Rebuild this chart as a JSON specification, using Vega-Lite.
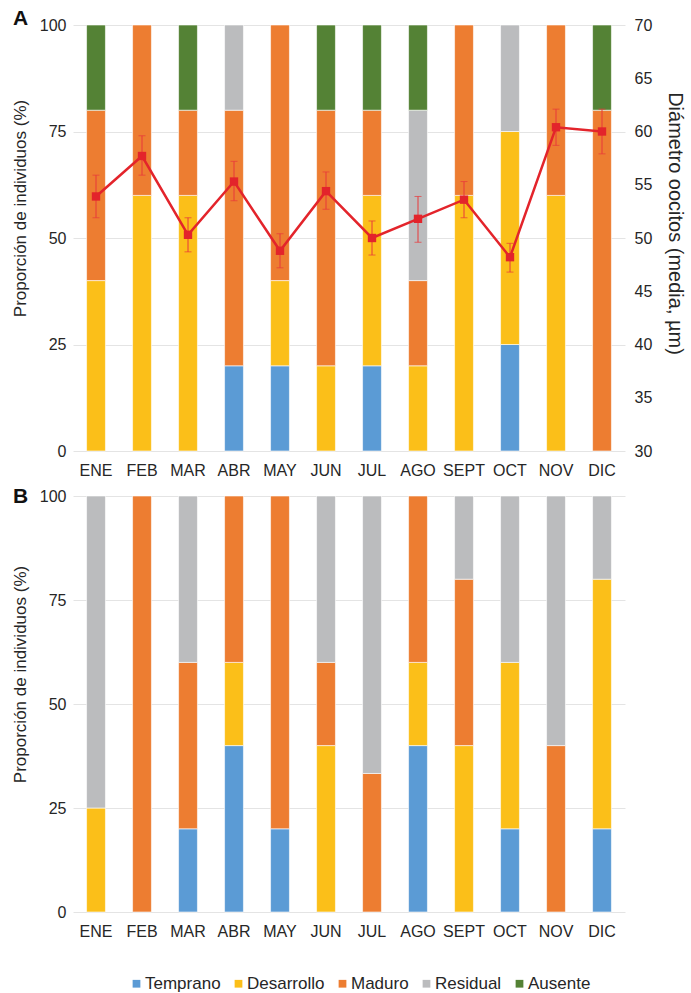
{
  "$schema": "https://vega.github.io/schema/vega-lite/v6.json",
  "padding": {"left": 11, "top": 8, "right": 2, "bottom": 2},
  "config": {
    "font": "Liberation Sans",
    "view": {"stroke": null},
    "axis": {
      "labelFontSize": 16,
      "titleFontSize": 17,
      "titleFontWeight": "normal",
      "labelColor": "#262626",
      "titleColor": "#262626",
      "domain": false,
      "ticks": false,
      "gridColor": "#E4E4E4",
      "labelPadding": 7
    },
    "axisX": {"grid": false, "labelAngle": 0, "title": null, "labelPadding": 11},
    "legend": {
      "orient": "none",
      "legendX": 55,
      "legendY": 950,
      "direction": "horizontal",
      "title": null,
      "symbolType": "square",
      "symbolSize": 60,
      "symbolStrokeWidth": 0,
      "labelFontSize": 17,
      "labelColor": "#262626",
      "labelOffset": 0,
      "columnPadding": 9
    },
    "concat": {"spacing": 8},
    "title": {
      "anchor": "start",
      "frame": "group",
      "fontSize": 21,
      "fontWeight": "bold",
      "color": "#111111",
      "dx": -60,
      "baseline": "bottom"
    }
  },
  "datasets": {
    "etapas_a": [
      {"mes": "ENE", "estado": "Desarrollo", "pct": 40, "k": 2},
      {"mes": "ENE", "estado": "Maduro", "pct": 40, "k": 3},
      {"mes": "ENE", "estado": "Ausente", "pct": 20, "k": 5},
      {"mes": "FEB", "estado": "Desarrollo", "pct": 60, "k": 2},
      {"mes": "FEB", "estado": "Maduro", "pct": 40, "k": 3},
      {"mes": "MAR", "estado": "Desarrollo", "pct": 60, "k": 2},
      {"mes": "MAR", "estado": "Maduro", "pct": 20, "k": 3},
      {"mes": "MAR", "estado": "Ausente", "pct": 20, "k": 5},
      {"mes": "ABR", "estado": "Temprano", "pct": 20, "k": 1},
      {"mes": "ABR", "estado": "Maduro", "pct": 60, "k": 3},
      {"mes": "ABR", "estado": "Residual", "pct": 20, "k": 4},
      {"mes": "MAY", "estado": "Temprano", "pct": 20, "k": 1},
      {"mes": "MAY", "estado": "Desarrollo", "pct": 20, "k": 2},
      {"mes": "MAY", "estado": "Maduro", "pct": 60, "k": 3},
      {"mes": "JUN", "estado": "Desarrollo", "pct": 20, "k": 2},
      {"mes": "JUN", "estado": "Maduro", "pct": 60, "k": 3},
      {"mes": "JUN", "estado": "Ausente", "pct": 20, "k": 5},
      {"mes": "JUL", "estado": "Temprano", "pct": 20, "k": 1},
      {"mes": "JUL", "estado": "Desarrollo", "pct": 40, "k": 2},
      {"mes": "JUL", "estado": "Maduro", "pct": 20, "k": 3},
      {"mes": "JUL", "estado": "Ausente", "pct": 20, "k": 5},
      {"mes": "AGO", "estado": "Desarrollo", "pct": 20, "k": 2},
      {"mes": "AGO", "estado": "Maduro", "pct": 20, "k": 3},
      {"mes": "AGO", "estado": "Residual", "pct": 40, "k": 4},
      {"mes": "AGO", "estado": "Ausente", "pct": 20, "k": 5},
      {"mes": "SEPT", "estado": "Desarrollo", "pct": 60, "k": 2},
      {"mes": "SEPT", "estado": "Maduro", "pct": 40, "k": 3},
      {"mes": "OCT", "estado": "Temprano", "pct": 25, "k": 1},
      {"mes": "OCT", "estado": "Desarrollo", "pct": 50, "k": 2},
      {"mes": "OCT", "estado": "Residual", "pct": 25, "k": 4},
      {"mes": "NOV", "estado": "Desarrollo", "pct": 60, "k": 2},
      {"mes": "NOV", "estado": "Maduro", "pct": 40, "k": 3},
      {"mes": "DIC", "estado": "Maduro", "pct": 80, "k": 3},
      {"mes": "DIC", "estado": "Ausente", "pct": 20, "k": 5}
    ],
    "diametro_a": [
      {"mes": "ENE", "media": 53.9, "lo": 51.9, "hi": 55.9},
      {"mes": "FEB", "media": 57.7, "lo": 55.9, "hi": 59.6},
      {"mes": "MAR", "media": 50.3, "lo": 48.7, "hi": 51.9},
      {"mes": "ABR", "media": 55.3, "lo": 53.5, "hi": 57.2},
      {"mes": "MAY", "media": 48.8, "lo": 47.2, "hi": 50.4},
      {"mes": "JUN", "media": 54.4, "lo": 52.7, "hi": 56.2},
      {"mes": "JUL", "media": 50.0, "lo": 48.4, "hi": 51.6},
      {"mes": "AGO", "media": 51.8, "lo": 49.6, "hi": 53.9},
      {"mes": "SEPT", "media": 53.6, "lo": 51.9, "hi": 55.3},
      {"mes": "OCT", "media": 48.2, "lo": 46.8, "hi": 49.5},
      {"mes": "NOV", "media": 60.4, "lo": 58.7, "hi": 62.1},
      {"mes": "DIC", "media": 60.0, "lo": 57.9, "hi": 62.1}
    ],
    "etapas_b": [
      {"mes": "ENE", "estado": "Desarrollo", "pct": 25, "k": 2},
      {"mes": "ENE", "estado": "Residual", "pct": 75, "k": 4},
      {"mes": "FEB", "estado": "Maduro", "pct": 100, "k": 3},
      {"mes": "MAR", "estado": "Temprano", "pct": 20, "k": 1},
      {"mes": "MAR", "estado": "Maduro", "pct": 40, "k": 3},
      {"mes": "MAR", "estado": "Residual", "pct": 40, "k": 4},
      {"mes": "ABR", "estado": "Temprano", "pct": 40, "k": 1},
      {"mes": "ABR", "estado": "Desarrollo", "pct": 20, "k": 2},
      {"mes": "ABR", "estado": "Maduro", "pct": 40, "k": 3},
      {"mes": "MAY", "estado": "Temprano", "pct": 20, "k": 1},
      {"mes": "MAY", "estado": "Maduro", "pct": 80, "k": 3},
      {"mes": "JUN", "estado": "Desarrollo", "pct": 40, "k": 2},
      {"mes": "JUN", "estado": "Maduro", "pct": 20, "k": 3},
      {"mes": "JUN", "estado": "Residual", "pct": 40, "k": 4},
      {"mes": "JUL", "estado": "Maduro", "pct": 33.3, "k": 3},
      {"mes": "JUL", "estado": "Residual", "pct": 66.7, "k": 4},
      {"mes": "AGO", "estado": "Temprano", "pct": 40, "k": 1},
      {"mes": "AGO", "estado": "Desarrollo", "pct": 20, "k": 2},
      {"mes": "AGO", "estado": "Maduro", "pct": 40, "k": 3},
      {"mes": "SEPT", "estado": "Desarrollo", "pct": 40, "k": 2},
      {"mes": "SEPT", "estado": "Maduro", "pct": 40, "k": 3},
      {"mes": "SEPT", "estado": "Residual", "pct": 20, "k": 4},
      {"mes": "OCT", "estado": "Temprano", "pct": 20, "k": 1},
      {"mes": "OCT", "estado": "Desarrollo", "pct": 40, "k": 2},
      {"mes": "OCT", "estado": "Residual", "pct": 40, "k": 4},
      {"mes": "NOV", "estado": "Maduro", "pct": 40, "k": 3},
      {"mes": "NOV", "estado": "Residual", "pct": 60, "k": 4},
      {"mes": "DIC", "estado": "Temprano", "pct": 20, "k": 1},
      {"mes": "DIC", "estado": "Desarrollo", "pct": 60, "k": 2},
      {"mes": "DIC", "estado": "Residual", "pct": 20, "k": 4}
    ]
  },
  "vconcat": [
    {
      "title": {"text": "A", "offset": -12},
      "width": 552,
      "height": 426,
      "layer": [
        {
          "data": {"name": "etapas_a"},
          "mark": {"type": "bar", "stroke": "white", "strokeWidth": 0.6},
          "encoding": {
            "x": {
              "field": "mes", "type": "nominal",
              "sort": ["ENE", "FEB", "MAR", "ABR", "MAY", "JUN", "JUL", "AGO", "SEPT", "OCT", "NOV", "DIC"],
              "scale": {"paddingInner": 0.59, "paddingOuter": 0.295}
            },
            "y": {
              "field": "pct", "type": "quantitative", "stack": "zero",
              "scale": {"domain": [0, 100], "nice": false},
              "axis": {"values": [0, 25, 50, 75, 100], "grid": true, "title": "Proporción de individuos (%)", "titlePadding": 10, "titleY": 183}
            },
            "color": {
              "field": "estado", "type": "nominal",
              "scale": {
                "domain": ["Temprano", "Desarrollo", "Maduro", "Residual", "Ausente"],
                "range": ["#5B9BD5", "#FBBF19", "#ED7D31", "#BBBCBE", "#548235"]
              }
            },
            "order": {"field": "k", "type": "quantitative"}
          }
        },
        {
          "data": {"name": "diametro_a"},
          "encoding": {
            "x": {
              "field": "mes", "type": "nominal",
              "sort": ["ENE", "FEB", "MAR", "ABR", "MAY", "JUN", "JUL", "AGO", "SEPT", "OCT", "NOV", "DIC"]
            }
          },
          "layer": [
            {
              "mark": {"type": "rule", "color": "#E8383B", "strokeWidth": 1},
              "encoding": {
                "y": {
                  "field": "lo", "type": "quantitative",
                  "scale": {"domain": [30, 70], "nice": false},
                  "axis": {"orient": "right", "values": [30, 35, 40, 45, 50, 55, 60, 65, 70], "grid": false, "title": "Diámetro oocitos (media, µm)", "titleFontSize": 20, "labelPadding": 9, "titlePadding": 13, "titleY": 198}
                },
                "y2": {"field": "hi"}
              }
            },
            {
              "mark": {"type": "tick", "color": "#E8383B", "size": 7, "thickness": 1},
              "encoding": {
                "y": {"field": "lo", "type": "quantitative", "scale": {"domain": [30, 70], "nice": false}, "axis": {"orient": "right", "title": "Diámetro oocitos (media, µm)"}}
              }
            },
            {
              "mark": {"type": "tick", "color": "#E8383B", "size": 7, "thickness": 1},
              "encoding": {
                "y": {"field": "hi", "type": "quantitative", "scale": {"domain": [30, 70], "nice": false}, "axis": {"orient": "right", "title": "Diámetro oocitos (media, µm)"}}
              }
            },
            {
              "mark": {"type": "line", "color": "#E3242B", "strokeWidth": 2.5},
              "encoding": {
                "y": {"field": "media", "type": "quantitative", "scale": {"domain": [30, 70], "nice": false}, "axis": {"orient": "right", "title": "Diámetro oocitos (media, µm)"}}
              }
            },
            {
              "mark": {"type": "point", "shape": "square", "filled": true, "color": "#E3242B", "size": 70, "opacity": 1},
              "encoding": {
                "y": {"field": "media", "type": "quantitative", "scale": {"domain": [30, 70], "nice": false}, "axis": {"orient": "right", "title": "Diámetro oocitos (media, µm)"}}
              }
            }
          ]
        }
      ],
      "resolve": {"scale": {"y": "independent"}}
    },
    {
      "title": {"text": "B", "offset": -19},
      "width": 552,
      "height": 416,
      "data": {"name": "etapas_b"},
      "mark": {"type": "bar", "stroke": "white", "strokeWidth": 0.6},
      "encoding": {
        "x": {
          "field": "mes", "type": "nominal",
          "sort": ["ENE", "FEB", "MAR", "ABR", "MAY", "JUN", "JUL", "AGO", "SEPT", "OCT", "NOV", "DIC"],
          "scale": {"paddingInner": 0.59, "paddingOuter": 0.295}
        },
        "y": {
          "field": "pct", "type": "quantitative", "stack": "zero",
          "scale": {"domain": [0, 100], "nice": false},
          "axis": {"values": [0, 25, 50, 75, 100], "grid": true, "title": "Proporción de individuos (%)", "titlePadding": 10, "titleY": 178}
        },
        "color": {
          "field": "estado", "type": "nominal",
          "scale": {
            "domain": ["Temprano", "Desarrollo", "Maduro", "Residual", "Ausente"],
            "range": ["#5B9BD5", "#FBBF19", "#ED7D31", "#BBBCBE", "#548235"]
          }
        },
        "order": {"field": "k", "type": "quantitative"}
      }
    }
  ],
  "resolve": {"scale": {"color": "shared"}}
}
